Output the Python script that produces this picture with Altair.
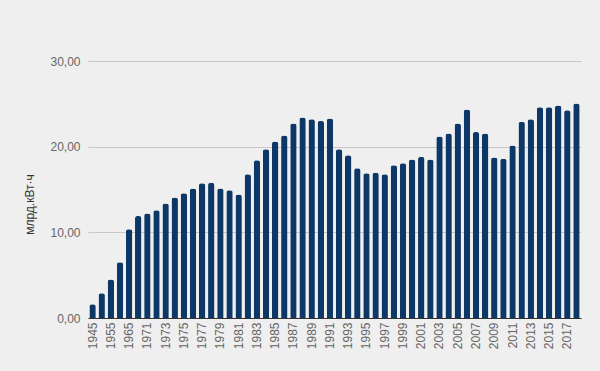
import altair as alt
import pandas as pd
import jinja2

years = ["1945", "1950", "1955", "1960", "1965", "1970"] + [str(y) for y in range(1971, 2019)]
values = [1.6, 2.9, 4.5, 6.5, 10.35, 11.9,
          12.2, 12.57, 13.38, 14.08, 14.55, 15.13, 15.72, 15.8, 15.13, 14.9,
          14.43, 16.77, 18.4, 19.7, 20.6, 21.3, 22.7, 23.4, 23.2, 23.0,
          23.3, 19.7, 19.0, 17.47, 16.9, 16.96, 16.77, 17.82, 18.05, 18.5,
          18.8, 18.5, 21.2, 21.55, 22.7, 24.35, 21.7, 21.55, 18.75, 18.6,
          20.15, 22.9, 23.2, 24.6, 24.6, 24.8, 24.25, 25.05]
tick_labels = years[::2]
y_ticks = [0, 10, 20, 30]

df = pd.DataFrame({"year": years, "value": values})

font = "Arial, Liberation Sans, sans-serif"

chart = alt.Chart(df).mark_bar(
    color="#0d3766", cornerRadiusTopLeft=2.5, cornerRadiusTopRight=2.5
).encode(
    x=alt.X("year:N", sort=years, title=None,
            scale=alt.Scale(paddingInner=0.3, paddingOuter=0.15),
            axis=alt.Axis(values=tick_labels, labelAngle=-90, labelFont=font,
                          labelFontSize=12, labelColor="#666666", ticks=False,
                          domainColor="#333333", domainWidth=1, labelPadding=4,
                          grid=False)),
    y=alt.Y("value:Q", title="млрд.кВт·ч",
            scale=alt.Scale(domain=[0, 30], nice=False),
            axis=alt.Axis(values=y_ticks, labelExpr="replace(format(datum.value, '.2f'), '.', ',')",
                          labelFont=font, labelFontSize=12, labelColor="#666666",
                          ticks=False, domain=False, gridColor="#c8c8c8", labelPadding=8,
                          titleFont=font, titleFontSize=12, titleFontWeight="normal",
                          titleColor="#333333", titlePadding=13, titleY=143)),
).properties(
    width=493, height=257,
    autosize=alt.AutoSizeParams(type="none"),
    padding={"left": 80, "top": 53, "right": 11, "bottom": 45},
    background="#efefef",
).configure_view(stroke=None)

PAGE = jinja2.Template("""<!DOCTYPE html>
<html>
<head>
  <meta charset="utf-8">
  <style>
    html, body { background: #efefef; }
  </style>
  <script type="text/javascript" src="{{ base_url }}/vega@{{ vega_version }}"></script>
  <script type="text/javascript" src="{{ base_url }}/vega-lite@{{ vegalite_version }}"></script>
  <script type="text/javascript" src="{{ base_url }}/vega-embed@{{ vegaembed_version }}"></script>
</head>
<body>
  <div id="{{ output_div }}"></div>
  <script>
    (function(vegaEmbed) {
      var spec = {{ spec }};
      var embedOpt = {{ embed_options }};
      function showError(el, error){
          el.innerHTML = ('<div style="color:red;"><p>JavaScript Error: ' + error.message + '</p></div>');
          throw error;
      }
      const el = document.getElementById('{{ output_div }}');
      vegaEmbed("#{{ output_div }}", spec, embedOpt).catch(error => showError(el, error));
    })(vegaEmbed);
  </script>
</body>
</html>
""")

chart.save("out.html", embed_options={"renderer": "svg", "actions": False}, template=PAGE)
